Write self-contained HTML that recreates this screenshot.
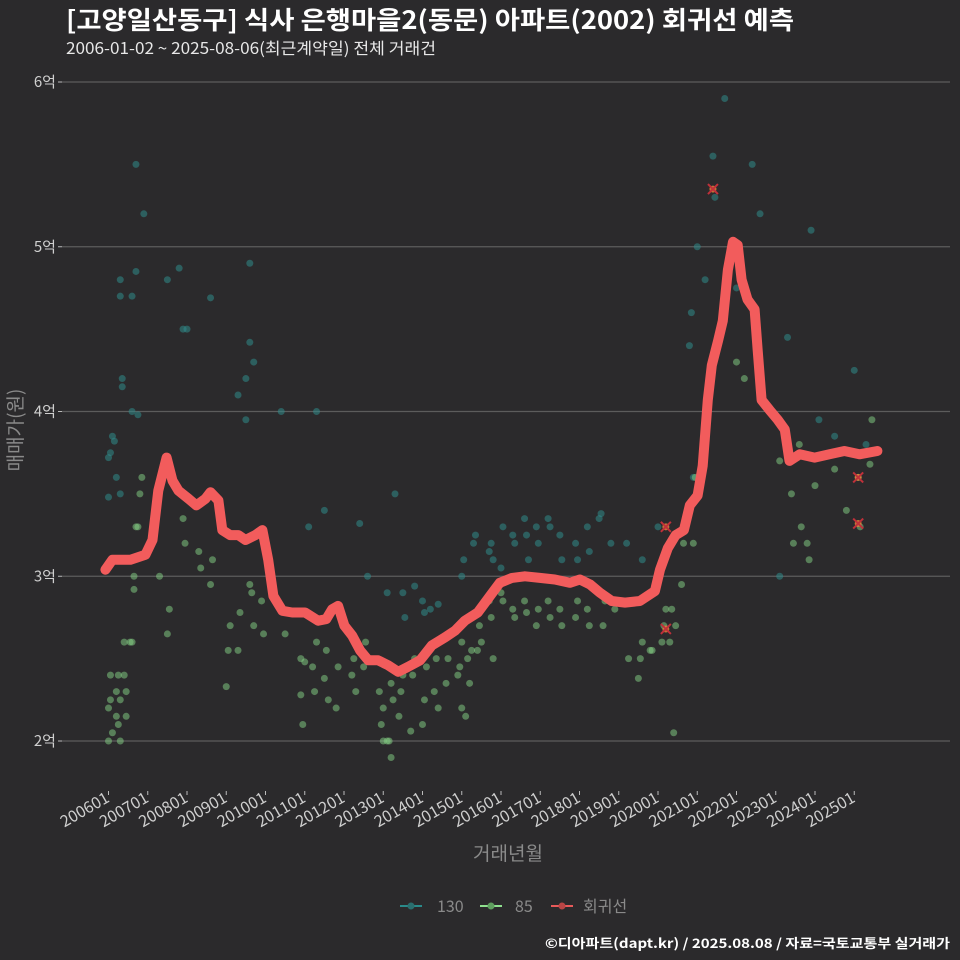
<!DOCTYPE html>
<html><head><meta charset="utf-8"><style>
body{margin:0;background:#2b2a2c;}
svg{display:block;font-family:"Noto Sans CJK KR","Liberation Sans",sans-serif;}
</style></head><body>
<svg id="chart" width="960" height="960" viewBox="0 0 960 960" xmlns="http://www.w3.org/2000/svg">
<rect width="960" height="960" fill="#2b2a2c"/>
<text x="66" y="29" fill="#ffffff" font-size="25" font-weight="bold" textLength="728" lengthAdjust="spacingAndGlyphs">[고양일산동구] 식사 은행마을2(동문) 아파트(2002) 회귀선 예측</text>
<text x="66" y="54" fill="#e8e8e8" font-size="16" textLength="370" lengthAdjust="spacingAndGlyphs">2006-01-02 ~ 2025-08-06(최근계약일) 전체 거래건</text>
<g id="grid"></g>
<g id="xaxis"></g>
<g id="pts"></g>
<g id="line"></g>
<text x="508" y="860" fill="#8a8a8a" font-size="19" text-anchor="middle">거래년월</text>
<text transform="translate(22,430) rotate(-90)" fill="#8a8a8a" font-size="19" text-anchor="middle">매매가(원)</text>
<g>
<g><line x1="400" y1="906" x2="422" y2="906" stroke="#2a8a8a" stroke-width="2"/><circle cx="411" cy="906" r="3.5" fill="#2a6f6f"/><text x="437" y="912" fill="#8a8a8a" font-size="16">130</text></g>
<g><line x1="480" y1="906" x2="502" y2="906" stroke="#8fe08f" stroke-width="2"/><circle cx="491" cy="906" r="3.5" fill="#5f9f5f"/><text x="515" y="912" fill="#8a8a8a" font-size="16">85</text></g>
<g><line x1="551" y1="906" x2="573" y2="906" stroke="#e85a5a" stroke-width="2"/><circle cx="562" cy="906" r="3.5" fill="#b84545"/><text x="583" y="912" fill="#8a8a8a" font-size="16">회귀선</text></g>
</g>
<text x="950" y="948" fill="#ffffff" font-size="13" font-weight="bold" text-anchor="end" textLength="405" lengthAdjust="spacingAndGlyphs">©디아파트(dapt.kr) / 2025.08.08 / 자료=국토교통부 실거래가</text>
</svg>
<script>
const yTicks=[2,3,4,5,6];
const xTickYears=[2006,2007,2008,2009,2010,2011,2012,2013,2014,2015,2016,2017,2018,2019,2020,2021,2022,2023,2024,2025];
const lineT=[2005.92,2006.10,2006.56,2006.94,2007.12,2007.27,2007.48,2007.63,2007.78,2008.04,2008.24,2008.47,2008.60,2008.80,2008.90,2009.10,2009.31,2009.49,2009.74,2009.92,2010.07,2010.20,2010.43,2010.68,2011.01,2011.34,2011.55,2011.70,2011.85,2012.01,2012.21,2012.41,2012.62,2012.87,2013.12,2013.38,2013.63,2013.94,2014.24,2014.58,2014.83,2015.08,2015.41,2015.72,2015.97,2016.28,2016.61,2016.99,2017.37,2017.76,2018.01,2018.27,2018.52,2018.82,2019.16,2019.54,2019.92,2020.05,2020.25,2020.45,2020.66,2020.81,2021.01,2021.14,2021.27,2021.37,2021.53,2021.65,2021.78,2021.91,2022.03,2022.13,2022.28,2022.46,2022.54,2022.64,2022.84,2023.05,2023.23,2023.35,2023.61,2023.99,2024.37,2024.75,2025.13,2025.59];
const lineV=[3.04,3.10,3.10,3.13,3.22,3.52,3.72,3.58,3.52,3.47,3.43,3.47,3.51,3.46,3.28,3.25,3.25,3.22,3.25,3.28,3.10,2.88,2.79,2.78,2.78,2.73,2.74,2.80,2.82,2.70,2.64,2.55,2.49,2.49,2.46,2.42,2.45,2.49,2.58,2.63,2.67,2.73,2.78,2.88,2.96,2.99,3.00,2.99,2.98,2.96,2.98,2.95,2.90,2.85,2.84,2.85,2.91,3.04,3.17,3.25,3.28,3.43,3.49,3.67,4.07,4.28,4.43,4.55,4.86,5.03,5.01,4.80,4.68,4.62,4.37,4.07,4.01,3.95,3.89,3.70,3.74,3.72,3.74,3.76,3.74,3.76];
const s130T=[2006.0,2006.0,2006.05,2006.1,2006.15,2006.2,2006.3,2006.3,2006.35,2006.35,2006.3,2006.6,2006.6,2006.7,2006.7,2006.75,2006.9,2007.5,2007.8,2007.9,2008.0,2008.6,2009.3,2009.6,2009.6,2009.5,2009.7,2009.5,2010.4,2011.3,2011.1,2011.5,2012.4,2012.6,2013.3,2013.1,2013.5,2013.55,2013.8,2014.0,2014.05,2014.2,2014.4,2015.0,2015.05,2015.3,2015.35,2015.7,2015.75,2015.8,2016.0,2016.05,2016.3,2016.35,2016.6,2016.65,2016.7,2016.9,2016.95,2017.2,2017.25,2017.5,2017.55,2017.9,2017.95,2018.2,2018.25,2018.5,2018.55,2018.8,2019.2,2019.6,2020.0,2020.3,2020.8,2020.85,2020.9,2021.0,2021.2,2021.4,2021.45,2021.7,2022.0,2022.4,2022.6,2023.3,2023.1,2023.9,2024.1,2024.5,2025.0,2025.3];
const s130V=[3.48,3.72,3.75,3.85,3.82,3.6,4.7,4.8,4.2,4.15,3.5,4.0,4.7,5.5,4.85,3.98,5.2,4.8,4.87,4.5,4.5,4.69,4.1,4.9,4.42,3.95,4.3,4.2,4.0,4.0,3.3,3.4,3.32,3.0,3.5,2.9,2.9,2.75,2.94,2.85,2.78,2.8,2.83,3.0,3.1,3.2,3.25,3.15,3.2,3.1,3.05,3.3,3.25,3.2,3.35,3.25,3.1,3.3,3.2,3.35,3.3,3.25,3.1,3.2,3.1,3.3,3.15,3.35,3.38,3.2,3.2,3.1,3.3,3.2,4.4,4.6,3.6,5.0,4.8,5.55,5.3,5.9,4.75,5.5,5.2,4.45,3.0,5.1,3.95,3.85,4.25,3.8];
const s85T=[2006.0,2006.0,2006.05,2006.05,2006.1,2006.2,2006.2,2006.25,2006.3,2006.25,2006.3,2006.4,2006.4,2006.45,2006.45,2006.55,2006.6,2006.65,2006.7,2006.65,2006.8,2006.75,2006.85,2007.3,2007.5,2007.55,2007.9,2007.95,2008.3,2008.35,2008.6,2008.65,2009.0,2009.05,2009.1,2009.3,2009.35,2009.6,2009.65,2009.7,2009.9,2009.95,2010.5,2010.9,2010.9,2010.95,2011.0,2011.2,2011.25,2011.3,2011.5,2011.55,2011.6,2011.8,2011.85,2012.2,2012.25,2012.3,2012.5,2012.55,2012.9,2012.95,2013.0,2013.0,2013.1,2013.15,2013.2,2013.2,2013.25,2013.4,2013.45,2013.5,2013.7,2013.75,2013.8,2014.0,2014.05,2014.1,2014.3,2014.35,2014.4,2014.6,2014.65,2014.7,2014.9,2014.95,2015.0,2015.0,2015.1,2015.15,2015.2,2015.25,2015.4,2015.45,2015.5,2015.5,2015.7,2015.75,2015.8,2016.0,2016.05,2016.3,2016.35,2016.6,2016.65,2016.9,2016.95,2017.2,2017.25,2017.5,2017.55,2017.9,2017.95,2018.2,2018.25,2018.6,2018.65,2018.9,2019.2,2019.25,2019.5,2019.55,2019.6,2019.8,2019.85,2020.1,2020.15,2020.2,2020.3,2020.35,2020.4,2020.45,2020.6,2020.65,2020.9,2020.95,2021.2,2022.0,2022.2,2023.1,2023.4,2023.45,2023.6,2023.65,2023.8,2023.85,2024.0,2024.5,2024.8,2025.1,2025.15,2025.4,2025.45];
const s85V=[2.0,2.2,2.25,2.4,2.05,2.3,2.15,2.4,2.0,2.1,2.25,2.6,2.4,2.15,2.3,2.6,2.6,3.0,3.3,2.92,3.5,3.3,3.6,3.0,2.65,2.8,3.35,3.2,3.15,3.05,2.95,3.1,2.33,2.55,2.7,2.55,2.78,2.95,2.9,2.7,2.85,2.65,2.65,2.5,2.28,2.1,2.48,2.45,2.3,2.6,2.38,2.55,2.25,2.2,2.45,2.4,2.5,2.3,2.45,2.6,2.3,2.1,2.0,2.2,2.0,2.0,1.9,2.35,2.25,2.15,2.3,2.4,2.06,2.4,2.5,2.1,2.25,2.45,2.3,2.5,2.2,2.35,2.5,2.65,2.4,2.45,2.2,2.6,2.15,2.5,2.35,2.55,2.55,2.7,2.8,2.6,2.85,2.75,2.5,2.9,2.85,2.8,2.75,2.85,2.78,2.7,2.8,2.85,2.75,2.8,2.7,2.75,2.85,2.8,2.7,2.7,2.85,2.8,2.85,2.5,2.38,2.5,2.6,2.55,2.55,2.6,2.7,2.8,2.6,2.8,2.05,2.7,2.95,3.2,3.2,3.6,3.9,4.3,4.2,3.7,3.5,3.2,3.8,3.3,3.2,3.1,3.55,3.65,3.4,3.6,3.3,3.68,3.95];
const predT=[2020.2,2020.2,2021.4,2025.1,2025.1];
const predV=[3.3,2.68,5.35,3.6,3.32];

const NS='http://www.w3.org/2000/svg';
const X=t=>108.5+(t-2006)*39.25;
const Y=v=>741-(v-2)*164.75;
function mk(tag,attrs,parent){const e=document.createElementNS(NS,tag);for(const k in attrs)e.setAttribute(k,attrs[k]);parent.appendChild(e);return e;}
const grid=document.getElementById('grid');
yTicks.forEach(v=>{
  const l=mk('line',{x1:62,x2:950,y1:Y(v),y2:Y(v),stroke:'#5c5c5c','stroke-width':1.2},grid);
  
  
  const tk=mk('line',{x1:58,x2:62,y1:Y(v),y2:Y(v),stroke:'#bbb'},grid);
  
  
  const t=mk('text',{x:56,y:Y(v)+5,fill:'#cfcfcf','font-size':15,'text-anchor':'end'},grid);
  t.textContent=v+'억';
  
  
});
const xa=document.getElementById('xaxis');
xTickYears.forEach(yr=>{
  const x=X(yr);
  const tk=mk('line',{x1:x,x2:x,y1:791,y2:795,stroke:'#bbb'},xa);
  
  
  const t=mk('text',{transform:`translate(${x+2},${801}) rotate(-30)`,fill:'#cfcfcf','font-size':16,'text-anchor':'end'},xa);
  t.textContent=yr+'01';
  
  
});
const pts=document.getElementById('pts');
s130T.forEach((t,i)=>{
  const c=mk('circle',{cx:X(t),cy:Y(s130V[i]),r:3.5,fill:'#2f8a8a','fill-opacity':0.55},pts);
  
  
});
s85T.forEach((t,i)=>{
  const c=mk('circle',{cx:X(t),cy:Y(s85V[i]),r:3.5,fill:'#86d486','fill-opacity':0.5},pts);
  
  
});
const lg=document.getElementById('line');
const p=mk('path',{d:lineT.map((t,i)=>(i?'L':'M')+X(t).toFixed(1)+','+Y(lineV[i]).toFixed(1)).join(''),fill:'none',stroke:'#f25c5c','stroke-width':10,'stroke-linejoin':'round','stroke-linecap':'round'},lg);


predT.forEach((t,i)=>{
  const x=X(t),y=Y(predV[i]);
  const g=mk('g',{},lg);
  
  
  mk('circle',{cx:x,cy:y,r:3.5,fill:'#e8893a','fill-opacity':0.8},g);
  mk('path',{d:`M${x-5},${y-5}L${x+5},${y+5}M${x-5},${y+5}L${x+5},${y-5}`,stroke:'#c0303a','stroke-width':2},g);
});
</script>
</body></html>
